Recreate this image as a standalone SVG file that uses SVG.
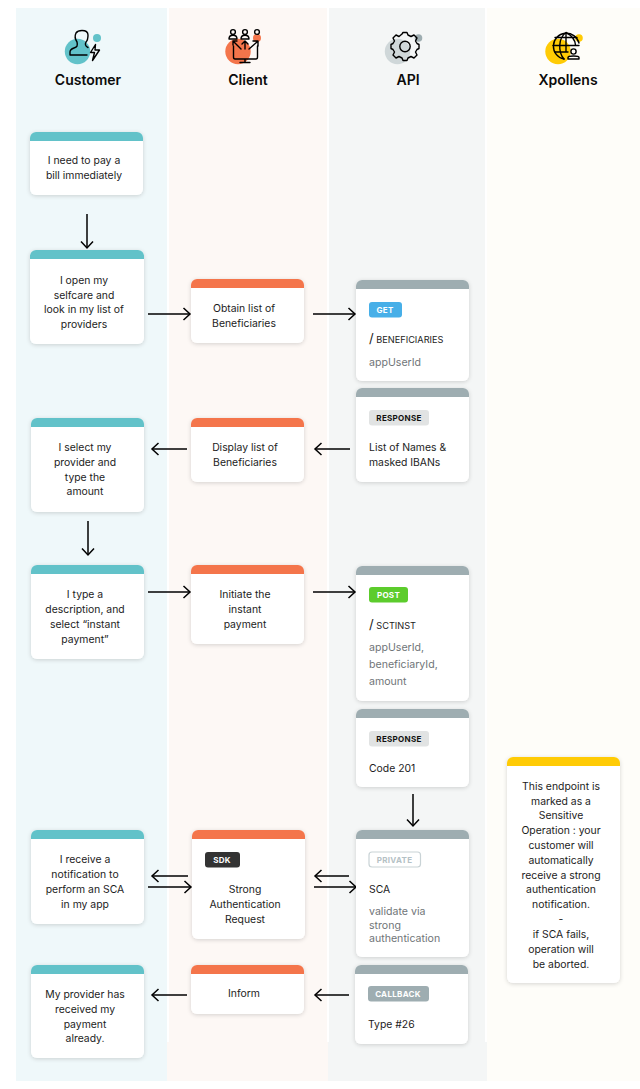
<svg xmlns="http://www.w3.org/2000/svg" width="640" height="1089" viewBox="0 0 640 1089">
<style>
text{font-family:Inter,"Open Sans","Liberation Sans",sans-serif;font-size:10.4px;fill:#1c1c1c}
.c{text-anchor:middle}
.t{font-size:14px;font-weight:600;fill:#0b0b0b;text-anchor:middle}
.g{fill:#707578;font-size:10.6px}
.b{font-size:8px;font-weight:700;text-anchor:middle;letter-spacing:.3px}
.card{fill:#fff;filter:url(#s)}
.cu{fill:#62c2c9}.cl{fill:#f4754b}.ap{fill:#9eadb1}.xp{fill:#ffcb05}
.ln{fill:none;stroke:#000;stroke-width:1.5}
.ic{fill:none;stroke:#000;stroke-width:1.4;stroke-linejoin:round;stroke-linecap:round}
</style>
<defs>
<filter id="s" x="-15%" y="-15%" width="130%" height="130%"><feDropShadow dx="0" dy="1" stdDeviation="2.2" flood-color="#000" flood-opacity=".16"/></filter>
<marker id="a" markerUnits="userSpaceOnUse" markerWidth="12" markerHeight="14" refX="9.5" refY="7" orient="auto"><path d="M3 1 L9.5 7 L3 13" fill="none" stroke="#000" stroke-width="1.5"/></marker>
</defs>
<g id="lanes">
<rect x="16" y="8" width="151" height="1073" fill="#eff8fa"/>
<rect x="169" y="8" width="158" height="1034" fill="#fdf8f5"/>
<rect x="167" y="1042" width="161" height="39" fill="#fdf8f5"/>
<rect x="329" y="8" width="156" height="1034" fill="#f4f6f6"/>
<rect x="328" y="1042" width="159" height="39" fill="#f4f6f6"/>
<rect x="487" y="8" width="153" height="1073" fill="#fefdf9"/>
</g>
<g id="head-customer">
<circle cx="77.500" cy="51.500" r="12.700" class="cu"/><circle cx="97" cy="38" r="4" class="cu"/>
<path class="ic" d="M88 47.500 C85 46 85 44 86 42 C87 41 88 39 88 35 C88 32 86 30.500 82 30.500 C79 30.500 77 31.500 76 33 C75 35 75 39 77 42 C78 46 77 47 74 48 C71 49 70 50 70 52 V55 H87"/>
<path class="ic" d="M95.500 44.500 L90.500 52.500 H94.500 L92.500 60.500 L99.500 50 H95 Z"/>
<text class="t" x="88" y="85">Customer</text>
</g>
<g id="head-client">
<circle cx="238" cy="51.500" r="12.700" class="cl"/><circle cx="257" cy="38" r="4" class="cl"/>
<g class="ic">
<circle cx="233" cy="32" r="2.400"/><path d="M229 39 C229 34 237 34 237 39 Z"/>
<circle cx="245" cy="32" r="2.400"/><path d="M241 39 C241 34 249 34 249 39 Z"/>
<circle cx="257" cy="32" r="2.400"/>
<path d="M233.500 46 V57 C233.500 58 234 59 235 59 H256 C257 59 257.500 58 257.500 57 V46 M245 59 V62.500 M240 62.500 H250"/>
<path d="M241 49 L233 41 M233 45 V41 H237 M245 49 V42 M242 44 L245 41 L248 44 M249 49 L257 42 M253 41 H258 V46"/>
</g>
<text class="t" x="248" y="85">Client</text>
</g>
<g id="head-api">
<circle cx="397.500" cy="51.500" r="12.700" fill="#cfd7d9"/><circle cx="418.500" cy="38" r="3.800" class="ap"/>
<circle cx="405" cy="46.500" r="5.200" class="ic"/>
<path class="ic" d="M402 34 L403 32.500 H407 L408 35 L411 36.500 L414 35 L417 38 L415.500 41 L417 43.500 L419 44.500 V48.500 L417 49.500 L415.500 52 L417 55 L414 58 L411 56.500 L408 58 L407 60.500 H403 L402 58 L399 56.500 L396 58 L393 55 L394.500 52 L393 49.500 L391 48.500 V44.500 L393 43.500 L394.500 41 L393 38 L396 35 L399 36.500 Z"/>
<text class="t" x="408" y="85">API</text>
</g>
<g id="head-xpollens">
<circle cx="558" cy="51.500" r="12.700" class="xp"/><circle cx="579" cy="38" r="3.800" class="xp"/>
<g class="ic">
<path d="M579 43 A13 13 0 1 0 564 59"/>
<path d="M566 32.500 C558 38 558 52 564 59 M566 32.500 C573 36 575 40 575.500 45 M555 37.500 H577 M553 45.500 H579 M555 52 H568 M566 32.500 V52"/>
<circle cx="573.500" cy="51.500" r="2.600"/><path d="M568 59 V57.500 C568 55.500 579 55.500 579 57.500 V59 Z"/>
</g>
<text class="t" x="568" y="85">Xpollens</text>
</g>
<g id="connectors" class="ln">
<path marker-end="url(#a)" d="M87 214V248"/>
<path marker-end="url(#a)" d="M88 521V555"/>
<path marker-end="url(#a)" d="M413 794V826"/>
<path marker-end="url(#a)" d="M148 314H190"/>
<path marker-end="url(#a)" d="M313 314H355"/>
<path marker-end="url(#a)" d="M187 449H152"/>
<path marker-end="url(#a)" d="M350 449H315"/>
<path marker-end="url(#a)" d="M148 592H190"/>
<path marker-end="url(#a)" d="M313 592H355"/>
<path marker-end="url(#a)" d="M188 876H152"/>
<path marker-end="url(#a)" d="M148 887H191"/>
<path marker-end="url(#a)" d="M349 876H315"/>
<path marker-end="url(#a)" d="M314 887H356"/>
<path marker-end="url(#a)" d="M187 995H152"/>
<path marker-end="url(#a)" d="M349 995H315"/>
</g>
<g id="n1"><rect class="card" x="30" y="132" width="113" height="63" rx="6"/><path class="cu" d="M30 141V138a6 6 0 0 1 6-6H137a6 6 0 0 1 6 6V141Z"/>
<text class="c" x="84" y="164">I need to pay a</text><text class="c" x="84" y="179">bill immediately</text></g>
<g id="n2"><rect class="card" x="30" y="250" width="114" height="94" rx="6"/><path class="cu" d="M30 259V256a6 6 0 0 1 6-6H138a6 6 0 0 1 6 6V259Z"/>
<text class="c" x="84" y="284">I open my</text><text class="c" x="84" y="299">selfcare and</text><text class="c" x="84" y="313">look in my list of</text><text class="c" x="84" y="328">providers</text></g>
<g id="n3"><rect class="card" x="31" y="418" width="113" height="94" rx="6"/><path class="cu" d="M31 427V424a6 6 0 0 1 6-6H138a6 6 0 0 1 6 6V427Z"/>
<text class="c" x="85" y="451">I select my</text><text class="c" x="85" y="466">provider and</text><text class="c" x="85" y="481">type the</text><text class="c" x="85" y="495">amount</text></g>
<g id="n4"><rect class="card" x="31" y="565" width="113" height="94" rx="6"/><path class="cu" d="M31 574V571a6 6 0 0 1 6-6H138a6 6 0 0 1 6 6V574Z"/>
<text class="c" x="85" y="598">I type a</text><text class="c" x="85" y="613">description, and</text><text class="c" x="85" y="628">select “instant</text><text class="c" x="85" y="643">payment”</text></g>
<g id="n5"><rect class="card" x="31" y="830" width="113" height="94" rx="6"/><path class="cu" d="M31 839V836a6 6 0 0 1 6-6H138a6 6 0 0 1 6 6V839Z"/>
<text class="c" x="85" y="863">I receive a</text><text class="c" x="85" y="878">notification to</text><text class="c" x="85" y="893">perform an SCA</text><text class="c" x="85" y="908">in my app</text></g>
<g id="n6"><rect class="card" x="31" y="965" width="113" height="93" rx="6"/><path class="cu" d="M31 974V971a6 6 0 0 1 6-6H138a6 6 0 0 1 6 6V974Z"/>
<text class="c" x="85" y="998">My provider has</text><text class="c" x="85" y="1013">received my</text><text class="c" x="85" y="1028">payment</text><text class="c" x="85" y="1042">already.</text></g>
<g id="k1"><rect class="card" x="191" y="279" width="113" height="64" rx="6"/><path class="cl" d="M191 288V285a6 6 0 0 1 6-6H298a6 6 0 0 1 6 6V288Z"/>
<text class="c" x="244" y="312">Obtain list of</text><text class="c" x="244" y="327">Beneficiaries</text></g>
<g id="k2"><rect class="card" x="191" y="418" width="113" height="64" rx="6"/><path class="cl" d="M191 427V424a6 6 0 0 1 6-6H298a6 6 0 0 1 6 6V427Z"/>
<text class="c" x="245" y="451">Display list of</text><text class="c" x="245" y="466">Beneficiaries</text></g>
<g id="k3"><rect class="card" x="191" y="565" width="113" height="79" rx="6"/><path class="cl" d="M191 574V571a6 6 0 0 1 6-6H298a6 6 0 0 1 6 6V574Z"/>
<text class="c" x="245" y="598">Initiate the</text><text class="c" x="245" y="613">instant</text><text class="c" x="245" y="628">payment</text></g>
<g id="k4"><rect class="card" x="192" y="830" width="113" height="109" rx="6"/><path class="cl" d="M192 839V836a6 6 0 0 1 6-6H299a6 6 0 0 1 6 6V839Z"/>
<rect x="205" y="852" width="35" height="15.500" rx="3" fill="#333"/><text class="b" x="222" y="863" style="fill:#fff">SDK</text>
<text class="c" x="245" y="893">Strong</text><text class="c" x="245" y="908">Authentication</text><text class="c" x="245" y="923">Request</text></g>
<g id="k5"><rect class="card" x="191" y="965" width="113" height="49" rx="6"/><path class="cl" d="M191 974V971a6 6 0 0 1 6-6H298a6 6 0 0 1 6 6V974Z"/>
<text class="c" x="244" y="997">Inform</text></g>
<g id="a1"><rect class="card" x="356" y="280" width="113" height="101" rx="6"/><path class="ap" d="M356 289V286a6 6 0 0 1 6-6H463a6 6 0 0 1 6 6V289Z"/>
<rect x="369" y="302" width="33" height="15.500" rx="3" fill="#47afe8"/><text class="b" x="385" y="312.500" style="fill:#fff">GET</text>
<text x="369" y="343" font-size="9.200" style="font-size:9.200px"><tspan style="font-size:13px">/</tspan> BENEFICIARIES</text><text class="g" x="369" y="366">appUserId</text></g>
<g id="a2"><rect class="card" x="356" y="388" width="113" height="94" rx="6"/><path class="ap" d="M356 397V394a6 6 0 0 1 6-6H463a6 6 0 0 1 6 6V397Z"/>
<rect x="369" y="410" width="60" height="15.500" rx="3" fill="#e1e3e3"/><text class="b" x="399" y="421" style="fill:#111">RESPONSE</text>
<text x="369" y="451">List of Names &amp;</text><text x="369" y="466">masked IBANs</text></g>
<g id="a3"><rect class="card" x="356" y="566" width="113" height="135" rx="6"/><path class="ap" d="M356 575V572a6 6 0 0 1 6-6H463a6 6 0 0 1 6 6V575Z"/>
<rect x="369" y="587" width="39" height="15.500" rx="3" fill="#5ccc2c"/><text class="b" x="388.500" y="598" style="fill:#fff">POST</text>
<text x="369" y="629" style="font-size:9.200px"><tspan style="font-size:13px">/</tspan> SCTINST</text><text class="g" x="369" y="651">appUserId,</text><text class="g" x="369" y="668">beneficiaryId,</text><text class="g" x="369" y="685">amount</text></g>
<g id="a4"><rect class="card" x="356" y="709" width="113" height="78" rx="6"/><path class="ap" d="M356 718V715a6 6 0 0 1 6-6H463a6 6 0 0 1 6 6V718Z"/>
<rect x="369" y="731" width="60" height="15.500" rx="3" fill="#e1e3e3"/><text class="b" x="399" y="742" style="fill:#111">RESPONSE</text>
<text x="369" y="772">Code 201</text></g>
<g id="a5"><rect class="card" x="356" y="830" width="113" height="127" rx="6"/><path class="ap" d="M356 839V836a6 6 0 0 1 6-6H463a6 6 0 0 1 6 6V839Z"/>
<rect x="369" y="852" width="51.500" height="15" rx="3" fill="#fff" stroke="#c9d3d6" stroke-width="1.200"/><text class="b" x="394.500" y="863" style="fill:#b4c1c5">PRIVATE</text>
<text x="369" y="893">SCA</text><text class="g" x="369" y="915">validate via</text><text class="g" x="369" y="929">strong</text><text class="g" x="369" y="942">authentication</text></g>
<g id="a6"><rect class="card" x="355" y="965" width="113" height="79" rx="6"/><path class="ap" d="M355 974V971a6 6 0 0 1 6-6H462a6 6 0 0 1 6 6V974Z"/>
<rect x="368" y="986" width="61" height="15.500" rx="3" fill="#9eadb1"/><text class="b" x="398" y="997" style="fill:#fff">CALLBACK</text>
<text x="368" y="1028">Type #26</text></g>
<g id="x1"><rect class="card" x="507" y="757" width="113" height="226" rx="6"/><path class="xp" d="M507 766V763a6 6 0 0 1 6-6H614a6 6 0 0 1 6 6V766Z"/>
<text class="c" x="561" y="790">This endpoint is</text><text class="c" x="561" y="805">marked as a</text><text class="c" x="561" y="819">Sensitive</text><text class="c" x="561" y="834">Operation : your</text><text class="c" x="561" y="849">customer will</text><text class="c" x="561" y="864">automatically</text><text class="c" x="561" y="879">receive a strong</text><text class="c" x="561" y="893">authentication</text><text class="c" x="561" y="908">notification.</text><text class="c" x="561" y="923">-</text><text class="c" x="561" y="938">if SCA fails,</text><text class="c" x="561" y="953">operation will</text><text class="c" x="561" y="968">be aborted.</text></g>
</svg>
